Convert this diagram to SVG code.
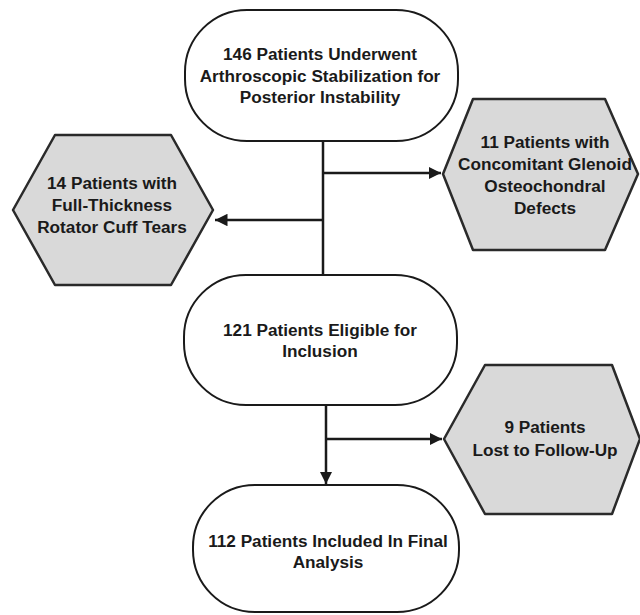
<svg xmlns="http://www.w3.org/2000/svg" width="640" height="615" viewBox="0 0 640 615">
<defs>
<style>
.box{fill:#ffffff;stroke:#1a1a1a;stroke-width:2}
.hex{fill:#d9d9d9;stroke:#2a2a2a;stroke-width:2.5;stroke-linejoin:round}
.t{font-family:"Liberation Sans",Arial,sans-serif;font-weight:bold;font-size:17.2px;fill:#1a1a1a;text-anchor:middle}
.ln{stroke:#1a1a1a;stroke-width:2.5;fill:none}
</style>
<marker id="ah" viewBox="0 0 10 10" refX="10" refY="5" markerWidth="5" markerHeight="5" orient="auto" markerUnits="strokeWidth">
<path d="M0,0 L10,5 L0,10 z" fill="#1a1a1a"/>
</marker>
</defs>
<rect width="640" height="615" fill="#ffffff"/>
<g id="connectors">
<line class="ln" x1="323" y1="141" x2="323" y2="276"/>
<line class="ln" x1="323" y1="173" x2="441" y2="173" marker-end="url(#ah)"/>
<line class="ln" x1="323" y1="220" x2="215" y2="220" marker-end="url(#ah)"/>
<line class="ln" x1="326" y1="405" x2="326" y2="484" marker-end="url(#ah)"/>
<line class="ln" x1="326" y1="439" x2="442" y2="439" marker-end="url(#ah)"/>
</g>
<g id="n1">
<rect class="box" x="185" y="10" width="273" height="131" rx="62" ry="62"/>
<text class="t" x="320" y="60">146 Patients Underwent</text>
<text class="t" x="320" y="82">Arthroscopic Stabilization for</text>
<text class="t" x="320" y="103">Posterior Instability</text>
</g>
<g id="n2">
<polygon class="hex" points="55,135 171,135 213,210 171,285 55,285 13,210"/>
<text class="t" x="112" y="189">14 Patients with</text>
<text class="t" x="112" y="211">Full-Thickness</text>
<text class="t" x="112" y="233">Rotator Cuff Tears</text>
</g>
<g id="n3">
<polygon class="hex" points="473,99 605,99 638,174 605,250 473,250 443,174"/>
<text class="t" x="545" y="148">11 Patients with</text>
<text class="t" x="545" y="170">Concomitant Glenoid</text>
<text class="t" x="545" y="192">Osteochondral</text>
<text class="t" x="545" y="214">Defects</text>
</g>
<g id="n4">
<rect class="box" x="184" y="275" width="273" height="130" rx="62" ry="62"/>
<text class="t" x="320" y="336">121 Patients Eligible for</text>
<text class="t" x="320" y="357">Inclusion</text>
</g>
<g id="n5">
<polygon class="hex" points="485,365 612,365 640,439 612,514 485,514 444,439"/>
<text class="t" x="545" y="433">9 Patients</text>
<text class="t" x="545" y="456">Lost to Follow-Up</text>
</g>
<g id="n6">
<rect class="box" x="193" y="485" width="266" height="127" rx="62" ry="62"/>
<text class="t" x="328" y="547">112 Patients Included In Final</text>
<text class="t" x="328" y="568">Analysis</text>
</g>
</svg>
